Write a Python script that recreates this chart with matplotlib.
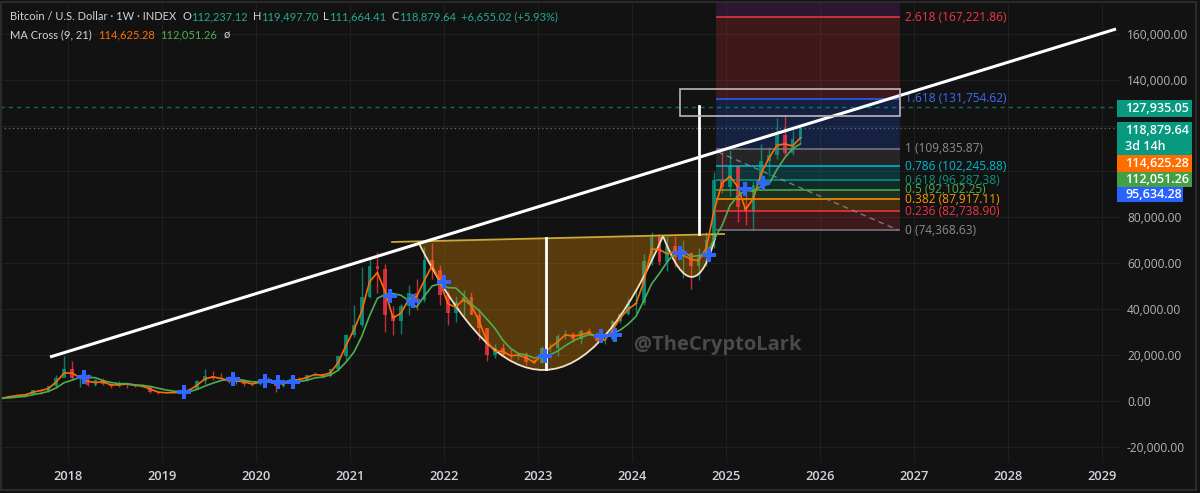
import numpy as np
import pandas as pd
import matplotlib
matplotlib.use('Agg')
import matplotlib.pyplot as plt
from matplotlib.path import Path
from matplotlib.patches import PathPatch, Rectangle

plt.rcParams['font.family'] = ['Open Sans', 'DejaVu Sans']

BG = '#121212'
GRID = '#1f1f1f'
UP = '#089981'
DN = '#f23645'
TXT = '#d1d4dc'

# monthly candles, Apr 2017 .. Oct 2025
months = pd.date_range('2017-04-01', '2025-10-01', freq='MS')
opens = [1071, 1348, 2300, 2480, 2875, 4735, 4340, 6450, 10200,
         14150, 10200, 10300, 6900, 9250, 7500, 6400, 7730, 7030, 6630, 6320, 4040,
         3740, 3460, 3850, 4100, 5350, 8570, 10800, 10100, 9600, 8300, 9200, 7550,
         7200, 9350, 8600, 6450, 8650, 9450, 9150, 11350, 11650, 10780, 13800, 19700,
         28950, 33100, 45200, 58800, 57700, 37300, 35050, 41500, 47100, 43800, 61300, 57000,
         46300, 38500, 43200, 45500, 37650, 31800, 19950, 23300, 20050, 19430, 20500, 17150,
         16550, 23150, 23150, 28450, 29250, 27200, 30450, 29250, 25950, 26950, 34650, 37700,
         42250, 42600, 61150, 71300, 60650, 67500, 62700, 64600, 58950, 63300, 70200, 96400,
         93400, 102400, 84350, 82550, 94200, 104600, 107150, 115750, 108250, 114050]
highs = [1350, 2760, 2980, 2920, 4760, 4975, 6470, 11400, 19800,
         17300, 11800, 11700, 9800, 10000, 7800, 8500, 7760, 7450, 7500, 6600, 4400,
         4100, 4200, 4150, 5600, 9100, 13900, 13200, 12300, 10950, 10500, 9500, 7750,
         9600, 10500, 9200, 9470, 10070, 10400, 11450, 12480, 12100, 14100, 19750, 29300,
         41950, 58350, 61700, 64850, 59600, 41300, 42300, 50500, 52950, 67000, 69000, 59100,
         47900, 45800, 48200, 47450, 40000, 31900, 24650, 25200, 22800, 21050, 21450, 18400,
         23950, 25250, 29200, 31000, 29850, 31400, 31800, 30250, 27500, 35200, 38450, 44700,
         48950, 64000, 73800, 72750, 71950, 71950, 70000, 65100, 66500, 73600, 99650, 108350,
         109350, 102500, 95000, 95750, 111950, 110500, 123200, 124450, 117900, 119500]
lows = [1060, 1340, 2100, 1830, 2670, 2950, 4110, 5500, 10700,
        9000, 5900, 6500, 6400, 7050, 5750, 6100, 5880, 6100, 6200, 3500, 3150,
        3350, 3370, 3700, 4050, 5330, 7450, 9100, 9400, 7700, 7300, 6500, 6430,
        6850, 8450, 3850, 6150, 8100, 8850, 8900, 10950, 9880, 10370, 13200, 17600,
        28100, 32300, 44950, 47050, 30000, 28800, 29300, 37350, 39600, 43300, 53250, 42000,
        32950, 34300, 37200, 37700, 26700, 17600, 18800, 19550, 18150, 18200, 15480, 16250,
        16500, 21400, 19550, 26950, 25800, 24800, 28850, 25150, 24900, 26550, 34100, 37650,
        38550, 41900, 59250, 59200, 56550, 58400, 53500, 49000, 52550, 58900, 66800, 90500,
        89250, 78200, 76600, 74450, 93400, 98200, 105250, 107300, 107250, 112000]
closes = [1348, 2300, 2480, 2875, 4735, 4340, 6450, 10200, 14150,
          10200, 10300, 6900, 9250, 7500, 6400, 7730, 7030, 6630, 6320, 4040, 3740,
          3460, 3850, 4100, 5350, 8570, 10800, 10100, 9600, 8300, 9200, 7550, 7200,
          9350, 8600, 6450, 8650, 9450, 9150, 11350, 11650, 10780, 13800, 19700, 28950,
          33100, 45200, 58800, 57700, 37300, 35050, 41500, 47100, 43800, 61300, 57000, 46300,
          38500, 43200, 45500, 37650, 31800, 19950, 23300, 20050, 19430, 20500, 17150, 16550,
          23150, 23150, 28450, 29250, 27200, 30450, 29250, 25950, 26950, 34650, 37700, 42250,
          42600, 61150, 71300, 60650, 67500, 62700, 64600, 58950, 63300, 70200, 96400, 93400,
          102400, 84350, 82550, 94200, 104600, 107150, 115750, 108250, 114050, 118880]
ma9 = [1214, 1824, 2390, 2678, 3805, 4538, 5395, 8325, 12175,
       12175, 10250, 8600, 8075, 8375, 6950, 7065, 7380, 6830, 6475, 5180, 3890,
       3600, 3655, 3975, 4725, 6960, 9685, 10450, 9850, 8950, 8750, 8375, 7375,
       8275, 8975, 7525, 7550, 9050, 9300, 10250, 11500, 11215, 12290, 16750, 24325,
       31025, 39150, 52000, 56000, 47500, 36175, 38275, 44300, 45450, 52550, 59150, 51650,
       42400, 40850, 44350, 41575, 34725, 25875, 21625, 21675, 19740, 19965, 18825, 16850,
       19850, 23150, 25800, 28850, 28225, 28825, 29850, 27600, 26450, 30800, 36175, 39975,
       42425, 51875, 66225, 65975, 64075, 65100, 63650, 61775, 61125, 66750, 83300, 94900,
       97900, 93375, 83450, 88375, 99400, 105875, 111450, 112000, 111150, 114625]
ma21 = [1110, 1378, 1680, 2017, 2748, 3346, 4176, 5720, 7975,
        9068, 10260, 10350, 10160, 8830, 8070, 7556, 7582, 7058, 6822, 6350, 5552,
        4838, 4282, 3838, 4100, 5066, 6534, 7784, 8884, 9474, 9600, 8950, 8370,
        8320, 8380, 7830, 8050, 8500, 8460, 9010, 10050, 10476, 11346, 13456, 16976,
        21266, 28150, 37150, 44750, 46420, 46810, 46070, 43730, 40950, 45750, 50140, 51100,
        49380, 49260, 46100, 42230, 39330, 35620, 31640, 26550, 22906, 20646, 20086, 18736,
        19356, 20100, 21690, 24110, 26240, 27700, 28920, 28420, 27960, 29450, 30900, 33500,
        36830, 43670, 51000, 55590, 60640, 64660, 65350, 62880, 63410, 63950, 70690, 76450,
        85140, 89350, 91820, 91380, 93620, 94570, 100850, 105990, 109960, 112051]

# MA cross markers (decimal year, price)
cross_t = [2018.17, 2019.23, 2019.76, 2020.10, 2020.23, 2020.39, 2021.43, 2021.67, 2022.00,
           2023.07, 2023.67, 2023.82, 2024.51, 2024.82, 2025.20, 2025.39]
cross_v = [10460, 3920, 9590, 8720, 8280, 8280, 45750, 43570, 51850,
           19610, 28320, 28760, 64490, 63620, 92380, 94990]

# fibonacci extension
fib_levels = [0, 0.236, 0.382, 0.5, 0.618, 0.786, 1, 1.618, 2.618, 3.618]
fib_prices = [74368.63, 82738.90, 87917.11, 92102.25, 96287.38, 102245.88,
              109835.87, 131754.62, 167221.86, 202689.09]
fib_colors = ['#787b86', '#f23645', '#ff9800', '#4caf50', '#089981', '#00bcd4',
              '#787b86', '#2962ff', '#f23645', '#9c27b0']
fib_label_colors = ['#8a8d96', '#f23645', '#ff9800', '#4caf50', '#089981', '#00bcd4',
                    '#8a8d96', '#3d6bff', '#f23645', '#9c27b0']

yticks = [-20000, 0, 20000, 40000, 60000, 80000, 140000, 160000]
years = list(range(2018, 2030))

fig = plt.figure(figsize=(12, 4.93), dpi=100, facecolor=BG)
ax = fig.add_axes([0, 31 / 493, 1120 / 1200, 459 / 493], facecolor=BG)
ax.set_xlim(2017.2766, 2029.1915)
ax.set_ylim(-26580, 173420)
for s in ax.spines.values():
    s.set_visible(False)

for v in range(-20000, 180000, 20000):
    ax.axhline(v, color=GRID, lw=0.8, zorder=0)
for y in years:
    ax.axvline(y, color=GRID, lw=0.8, zorder=0)

# candles
t = np.array([d.year + (d.month - 0.5) / 12 for d in months])
o, h, l, c = map(np.array, (opens, highs, lows, closes))
col = np.where(c >= o, UP, DN)
ax.vlines(t, l, h, colors=col, lw=1, alpha=0.8, zorder=2)
ax.bar(t, np.maximum(np.abs(c - o), 150), bottom=np.minimum(o, c), width=0.04,
       color=col, alpha=0.8, zorder=2)

# fib box
fx0, fx1 = 2024.894, 2026.851
for i in range(len(fib_prices) - 1):
    ax.add_patch(Rectangle((fx0, fib_prices[i]), fx1 - fx0, fib_prices[i + 1] - fib_prices[i],
                           facecolor=fib_colors[i + 1], alpha=0.2, lw=0, zorder=1))
for lvl, p, lc, tc in zip(fib_levels, fib_prices, fib_colors, fib_label_colors):
    ax.hlines(p, fx0, fx1, color=lc, lw=1.1, zorder=3)
    if p < 173000:
        ax.text(2026.904, p, f'{lvl:g} ({p:,.2f})', color=tc, fontsize=8.6,
                va='center', ha='left', zorder=5)
ax.plot([2024.915, 2026.830], [108500, 74510], color='#8a8d96', lw=1, ls=(0, (4, 3)),
        alpha=0.8, zorder=3)

# cup & handle
cup = Path([(2021.723, 69540), (2023.112, -43700), (2024.330, 71900),
            (2024.665, 35820), (2024.894, 72640), (2021.723, 69540), (2021.723, 69540)],
           [Path.MOVETO, Path.CURVE3, Path.CURVE3, Path.CURVE3, Path.CURVE3,
            Path.LINETO, Path.CLOSEPOLY])
ax.add_patch(PathPatch(cup, facecolor='#ff9800', alpha=0.3, lw=0, zorder=3))
arc = Path(cup.vertices[:5], cup.codes[:5])
ax.add_patch(PathPatch(arc, facecolor='none', edgecolor='#f2e2c4', lw=1.3, zorder=4))
ax.plot([2021.447, 2024.979], [69280, 72770], color='#c9a93a', lw=1.3, zorder=4)

# moving averages
ax.plot(t, ma9, color='#ff6d00', lw=1.2, zorder=4)
ax.plot(t, ma21, color='#4caf50', lw=1.2, zorder=4)

# horizontal price lines
ax.axhline(127935.05, color='#089981', lw=1, ls=(0, (3, 3)), alpha=0.7, zorder=3)
ax.axhline(118879.64, color='#5a9e94', lw=1, ls=(0, (1, 2)), alpha=0.7, zorder=3)

# white drawings
ax.plot([2017.809, 2029.149], [19170, 162090], color='white', lw=2.2, zorder=5,
        solid_capstyle='butt')
ax.plot([2023.085, 2023.085], [70900, 14000], color='white', lw=2, zorder=5)
ax.plot([2024.713, 2024.713], [128540, 72770], color='white', lw=2, zorder=5)
ax.add_patch(Rectangle((2024.511, 124180), 2026.851 - 2024.511, 135950 - 124180,
                       facecolor='none', edgecolor='#b8b8b8', lw=1.2, zorder=5))

ax.plot(cross_t, cross_v, ls='none', marker='P', ms=10.5, color='#2f66ff',
        markeredgewidth=0, zorder=6)

# axes labels
ax.yaxis.tick_right()
ax.set_yticks(yticks)
ax.set_yticklabels([f'{v:,.2f}' for v in yticks])
ax.tick_params(axis='y', length=0, pad=5, labelcolor='#b2b5be', labelsize=8.6)
ax.set_xticks(years)
ax.set_xticklabels([str(y) for y in years], fontweight='semibold')
ax.tick_params(axis='x', length=0, pad=6, labelcolor=TXT, labelsize=9.3)


def px(x, y):
    return x / 1200, 1 - y / 493


# price-scale label boxes
boxes = [(100, 117, '#089981', '127,935.05', 1192),
         (122, 155, '#089981', '', 1192),
         (155, 172, '#ff6d00', '114,625.28', 1192),
         (172, 187, '#43a047', '112,051.26', 1192),
         (187, 202, '#2962ff', '95,634.28', 1183)]
for y0, y1, fc, txt, xr in boxes:
    x0, yb = px(1117, y1)
    fig.add_artist(Rectangle((x0, yb), (xr - 1117) / 1200, (y1 - y0) / 493,
                             transform=fig.transFigure, facecolor=fc, lw=0))
    if txt:
        fig.text(*px(1125, (y0 + y1) / 2), txt, color='white', fontsize=9,
                 fontweight='semibold', va='center', ha='left')
fig.text(*px(1125, 131), '118,879.64', color='white', fontsize=9,
         fontweight='semibold', va='center', ha='left')
fig.text(*px(1125, 146), '3d 14h', color='white', fontsize=9,
         fontweight='semibold', va='center', ha='left')

# header: segments laid out one after another
VAL = '#22ab94'
HF = ['Lato', 'DejaVu Sans']
rend = fig.canvas.get_renderer()
hdr = [('Bitcoin / U.S. Dollar · 1W · INDEX', TXT, 6),
       ('O', TXT, 0), ('112,237.12', VAL, 5),
       ('H', TXT, 0), ('119,497.70', VAL, 5),
       ('L', TXT, 0), ('111,664.41', VAL, 5),
       ('C', TXT, 0), ('118,879.64', VAL, 5),
       ('+6,655.02 (+5.93%)', VAL, 0)]
hdr2 = [('MA Cross (9, 21)', TXT, 6), ('114,625.28', '#ff6d00', 6),
        ('112,051.26', '#4caf50', 6), ('ø', TXT, 0)]
for segs, yy in ((hdr, 17), (hdr2, 35)):
    x = 10
    for s, cl, gap in segs:
        tx = fig.text(*px(x, yy), s, color=cl, fontsize=8, family=HF,
                      va='center', ha='left')
        x += tx.get_window_extent(rend).width + gap

fig.text(*px(718, 345), '@TheCryptoLark', color='#4a4a4a', fontsize=14.5,
         fontweight='bold', va='center', ha='center')

fig.add_artist(Rectangle((0.001, 0.006), 0.996, 0.99, transform=fig.transFigure,
                         facecolor='none', edgecolor='#2a2a2a', lw=1.5))

fig.savefig('out.png', dpi=100, facecolor=BG)
